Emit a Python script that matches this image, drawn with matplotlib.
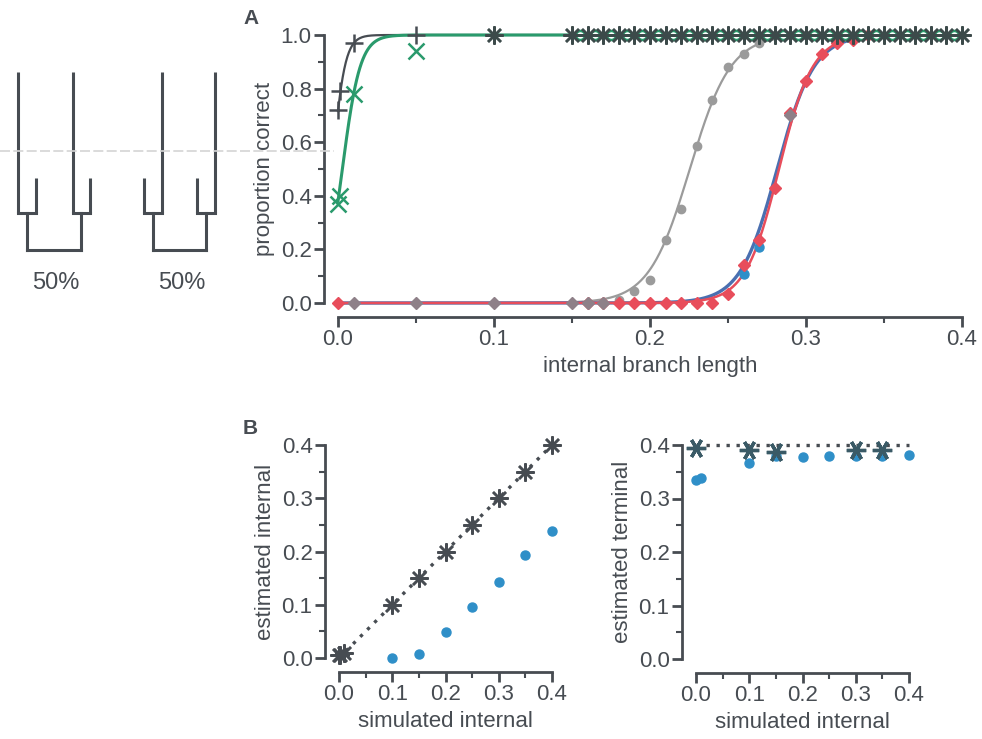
import numpy as np
import matplotlib.pyplot as plt
from matplotlib.ticker import MultipleLocator
from matplotlib.lines import Line2D

plt.rcParams['font.family'] = ['Liberation Sans', 'DejaVu Sans']

DARK = '#474c52'
GREEN = '#2a9a6c'
GRAY = '#9b9b9b'
RED = '#e84d5b'
BLUE = '#2f8fc8'
BLUE_LINE = '#4a6fb0'
MIX = '#8e8088'
TEAL = '#3a5a66'

# ---- panel A: proportion correct vs internal branch length ----
top_x = [0.15, 0.16, 0.17, 0.18, 0.19, 0.20, 0.21, 0.22, 0.23, 0.24, 0.25, 0.26, 0.27,
         0.28, 0.29, 0.30, 0.31, 0.32, 0.33, 0.34, 0.35, 0.36, 0.37, 0.38, 0.39, 0.40]
plus_x = [0.0, 0.001, 0.01, 0.05]
plus_y = [0.72, 0.79, 0.97, 1.0]
cross_x = [0.0, 0.001, 0.01, 0.05]
cross_y = [0.37, 0.40, 0.78, 0.94]
ast_x = [0.1] + top_x
ast_y = [1.0] * len(ast_x)
circ_x = [0.155, 0.165, 0.175, 0.185, 0.195, 0.205, 0.215, 0.225, 0.235, 0.245, 0.255, 0.265,
          0.275, 0.285, 0.295, 0.305, 0.315, 0.325, 0.335, 0.345, 0.355, 0.365, 0.375, 0.385, 0.395]
circ_y = [1.0] * len(circ_x)

gray_x = [0.18, 0.19, 0.20, 0.21, 0.22, 0.23, 0.24, 0.25, 0.26, 0.27, 0.28, 0.29, 0.30]
gray_y = [0.01, 0.045, 0.086, 0.235, 0.35, 0.586, 0.757, 0.882, 0.93, 0.97, 1.0, 1.0, 1.0]

red_x = [0.0, 0.16, 0.17, 0.18, 0.19, 0.20, 0.21, 0.22, 0.23, 0.24, 0.25, 0.26, 0.27,
         0.28, 0.29, 0.30, 0.31, 0.32, 0.33, 0.34]
red_y = [0.0, 0.0, 0.0, 0.0, 0.0, 0.0, 0.0, 0.0, 0.0, 0.0, 0.033, 0.14, 0.235,
         0.43, 0.71, 0.83, 0.93, 0.97, 0.98, 1.0]

blue_x = [0.26, 0.27]
blue_y = [0.11, 0.21]

mix_x = [0.01, 0.05, 0.1, 0.15, 0.16, 0.17, 0.29]
mix_y = [0.0, 0.0, 0.0, 0.0, 0.0, 0.0, 0.70]

# fitted logistic curves: (midpoint, scale)
fit_black = (-0.0037, 0.0040)
fit_green = (0.0028, 0.0057)
fit_gray = (0.2255, 0.0131)
fit_red = (0.2827, 0.0108)
fit_blue = (0.2815, 0.0118)

# ---- panel B ----
sim_x = [0.0, 0.001, 0.01, 0.1, 0.15, 0.2, 0.25, 0.3, 0.35, 0.4]
est_int_true = [0.005, 0.005, 0.01, 0.1, 0.15, 0.2, 0.25, 0.3, 0.35, 0.4]
blue_int_x = [0.1, 0.15, 0.2, 0.25, 0.3, 0.35, 0.4]
blue_int_y = [0.0, 0.007, 0.048, 0.095, 0.143, 0.193, 0.238]

star_x = [0.0, 0.1, 0.15, 0.3, 0.35]
star_y = [0.394, 0.39, 0.387, 0.39, 0.39]
blue_term_x = [0.0, 0.01, 0.1, 0.15, 0.2, 0.25, 0.3, 0.35, 0.4]
blue_term_y = [0.335, 0.338, 0.367, 0.38, 0.378, 0.38, 0.38, 0.38, 0.381]
true_terminal = 0.4


def logistic(x, fit):
    return 1.0 / (1.0 + np.exp(-(x - fit[0]) / fit[1]))


def style_axes(ax, xmaj, xmin, ymaj, ymin):
    for s in ['top', 'right']:
        ax.spines[s].set_visible(False)
    for s in ['left', 'bottom']:
        ax.spines[s].set_position(('outward', 10))
        ax.spines[s].set_color(DARK)
        ax.spines[s].set_linewidth(2)
    ax.xaxis.set_major_locator(MultipleLocator(xmaj))
    ax.xaxis.set_minor_locator(MultipleLocator(xmin))
    ax.yaxis.set_major_locator(MultipleLocator(ymaj))
    ax.yaxis.set_minor_locator(MultipleLocator(ymin))
    ax.tick_params(which='major', length=7, width=2, color=DARK, labelcolor=DARK,
                   labelsize=16, pad=2)
    ax.tick_params(which='minor', length=4, width=1.5, color=DARK)
    ax.xaxis.set_major_formatter(plt.FormatStrFormatter('%.1f'))
    ax.yaxis.set_major_formatter(plt.FormatStrFormatter('%.1f'))
    ax.patch.set_alpha(0)


fig = plt.figure(figsize=(9.82, 7.39), dpi=100)

# faint scan line across the left part
fig.add_artist(Line2D([0, 0.34], [1 - 151 / 739] * 2, color='#d4d4d4', lw=1.2,
                      ls=(0, (6, 2))))

# ---- trees ----
axt = fig.add_axes([0, 0, 1, 1])
axt.set_xlim(0, 982)
axt.set_ylim(739, 0)
axt.axis('off')


def draw_tree(ax, tips, top_tall, top_short, join, root, label):
    mids = []
    for pair in (tips[:2], tips[2:]):
        for x, tall in pair:
            ax.plot([x, x], [top_tall if tall else top_short, join], color=DARK, lw=2.2,
                    solid_capstyle='butt')
        ax.plot([pair[0][0], pair[1][0]], [join, join], color=DARK, lw=2.2)
        m = (pair[0][0] + pair[1][0]) / 2
        mids.append(m)
        ax.plot([m, m], [join, root], color=DARK, lw=2.2)
    ax.plot([mids[0], mids[1]], [root, root], color=DARK, lw=2.2)
    ax.text((mids[0] + mids[1]) / 2 + 2, root + 33, label, ha='center', va='center',
            fontsize=17, color=DARK)


draw_tree(axt, [(18, True), (36, False), (73, True), (90, False)], 72, 178, 213, 250, '50%')
draw_tree(axt, [(144, False), (162, True), (197, False), (215, True)], 72, 178, 213, 250, '50%')

# ---- panel A ----
axA = fig.add_axes([338 / 982, 1 - 303 / 739, 624 / 982, 268 / 739])
style_axes(axA, 0.1, 0.05, 0.2, 0.1)
axA.set_xlim(0, 0.4)
axA.set_ylim(0, 1)
xs = np.linspace(0, 0.4, 800)
axA.plot(xs, logistic(xs, fit_gray), color=GRAY, lw=1.6, clip_on=False, zorder=2)
axA.plot(xs, logistic(xs, fit_blue), color=BLUE_LINE, lw=2.4, clip_on=False, zorder=2)
axA.plot(xs, logistic(xs, fit_red), color=RED, lw=1.8, clip_on=False, zorder=2)
axA.plot(xs, logistic(xs, fit_black), color=DARK, lw=1.6, clip_on=False, zorder=2)
axA.plot(xs, logistic(xs, fit_green), color=GREEN, lw=2.2, clip_on=False, zorder=2)

axA.plot(gray_x, gray_y, 'o', color=GRAY, ms=6, clip_on=False, zorder=3)
axA.plot(blue_x, blue_y, 'o', color=BLUE, ms=6.5, clip_on=False, zorder=3)
axA.plot(red_x, red_y, 'D', color=RED, ms=6.5, clip_on=False, zorder=4)
axA.plot(mix_x, mix_y, 'D', color=MIX, ms=6.5, clip_on=False, zorder=4)
axA.plot(circ_x, circ_y, 'o', mfc='white', mec=GREEN, mew=1.8, ms=6.5, clip_on=False, zorder=5)
axA.plot(cross_x, cross_y, 'x', color=GREEN, ms=12, mew=1.8, clip_on=False, zorder=5)
axA.plot(plus_x, plus_y, '+', color=DARK, ms=13, mew=1.8, clip_on=False, zorder=6)
axA.plot(ast_x, ast_y, marker=(8, 2, 0), ls='none', color='#3c4a4a', ms=13, mew=1.8,
         clip_on=False, zorder=6)
axA.set_ylabel('proportion correct', fontsize=16, color=DARK, labelpad=4)
axA.set_xlabel('internal branch length', fontsize=16, color=DARK, labelpad=4)
fig.text(243 / 982, 1 - 19 / 739, 'A', fontsize=15, fontweight='bold', color=DARK,
         ha='left', va='center')

# ---- panel B left ----
axB1 = fig.add_axes([339 / 982, 1 - 658 / 739, 213 / 982, 213 / 739])
style_axes(axB1, 0.1, 0.05, 0.1, 0.05)
axB1.set_xlim(0, 0.4)
axB1.set_ylim(0, 0.4)
axB1.plot([0, 0.4], [0, 0.4], ls=(0, (1, 2)), color=DARK, lw=2.4, zorder=2)
axB1.plot(blue_int_x, blue_int_y, 'o', color=BLUE, ms=6.5, clip_on=False, zorder=3)
axB1.plot(sim_x, est_int_true, marker=(8, 2, 0), ls='none', color=DARK, ms=13, mew=1.8,
          clip_on=False, zorder=4)
axB1.set_ylabel('estimated internal', fontsize=16, color=DARK, labelpad=4)
axB1.set_xlabel('simulated internal', fontsize=16, color=DARK, labelpad=4)
fig.text(243 / 982, 1 - 428 / 739, 'B', fontsize=15, fontweight='bold', color=DARK,
         ha='left', va='center')

# ---- panel B right ----
axB2 = fig.add_axes([696 / 982, 1 - 659 / 739, 213 / 982, 214 / 739])
style_axes(axB2, 0.1, 0.05, 0.1, 0.05)
axB2.set_xlim(0, 0.4)
axB2.set_ylim(0, 0.4)
axB2.plot([0, 0.4], [true_terminal, true_terminal], ls=(0, (1, 2)), color=DARK, lw=2.4,
          clip_on=False, zorder=2)
axB2.plot(blue_term_x, blue_term_y, 'o', color=BLUE, ms=6.5, clip_on=False, zorder=3)
axB2.plot(star_x, star_y, marker=(6, 2, 90), ls='none', color=TEAL, ms=14, mew=2.4,
          clip_on=False, zorder=4)
axB2.set_ylabel('estimated terminal', fontsize=16, color=DARK, labelpad=4)
axB2.set_xlabel('simulated internal', fontsize=16, color=DARK, labelpad=4)

fig.savefig('out.png', dpi=100)
